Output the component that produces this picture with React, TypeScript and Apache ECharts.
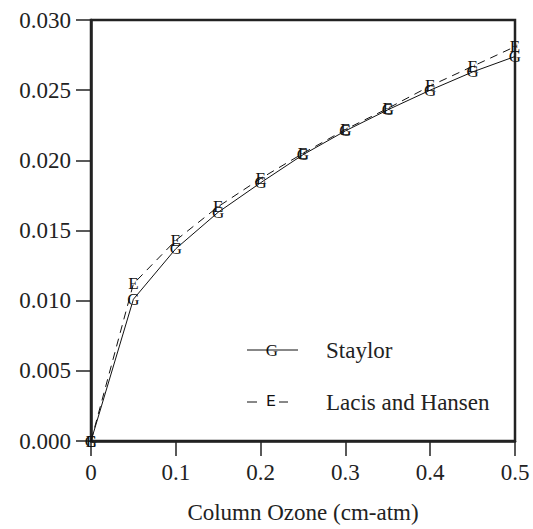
import React, { useEffect, useRef } from "react";
import * as echarts from "echarts";

const ozone = [0, 0.05, 0.1, 0.15, 0.2, 0.25, 0.3, 0.35, 0.4, 0.45, 0.5];
const staylor = [0, 0.0101, 0.0137, 0.0163, 0.0184, 0.0204, 0.0221, 0.0236, 0.025, 0.0263, 0.0274];
const lacisHansen = [0, 0.0112, 0.0143, 0.0167, 0.0187, 0.0205, 0.0222, 0.0237, 0.0253, 0.0267, 0.0281];
const seriesNames = ["Staylor", "Lacis and Hansen"];
const markers = ["G", "E"];
const xTitle = "Column Ozone (cm-atm)";

const serif = "Liberation Serif";
const mono = "Liberation Mono";

export default function App() {
  const ref = useRef<HTMLDivElement>(null);
  useEffect(() => {
    if (!ref.current) return;
    const chart = echarts.init(ref.current, null, { renderer: "svg" });
    const mk = (i: number, vals: number[], dashed: boolean) => ({
      name: seriesNames[i],
      type: "line",
      data: ozone.map((x, j) => [x, vals[j]]),
      symbol: "circle",
      symbolSize: 1,
      itemStyle: { color: "rgba(0,0,0,0)" },
      lineStyle: { color: "#111", width: 1, type: dashed ? [8, 6] : "solid" },
      label: {
        show: true,
        position: "inside",
        formatter: markers[i],
        color: "#111",
        fontFamily: serif,
        fontSize: 17,
      },
      labelLayout: { hideOverlap: false },
      emphasis: { disabled: true },
      silent: true,
      z: 3 - i,
    });
    chart.setOption({
      animation: false,
      grid: { left: 91, right: 18, top: 20, bottom: 86, show: true, borderColor: "#222", borderWidth: 2.5 },
      xAxis: {
        type: "value",
        min: 0,
        max: 0.5,
        interval: 0.1,
        name: xTitle,
        nameLocation: "middle",
        nameGap: 60,
        nameTextStyle: { fontFamily: serif, fontSize: 23, color: "#222" },
        axisLine: { show: true, lineStyle: { color: "#222", width: 2.5 } },
        axisTick: { show: true, length: 15, lineStyle: { color: "#222", width: 1.5 } },
        axisLabel: {
          fontFamily: serif,
          fontSize: 23,
          color: "#222",
          margin: 20,
          formatter: (v: number) => (v === 0 ? "0" : String(Math.round(v * 10) / 10)),
        },
        splitLine: { show: false },
      },
      yAxis: {
        type: "value",
        min: 0,
        max: 0.03,
        interval: 0.005,
        axisLine: { show: true, lineStyle: { color: "#222", width: 2.5 } },
        axisTick: { show: true, length: 15, lineStyle: { color: "#222", width: 1.5 } },
        axisLabel: {
          fontFamily: serif,
          fontSize: 23,
          color: "#222",
          margin: 20,
          formatter: (v: number) => v.toFixed(3),
        },
        splitLine: { show: false },
      },
      series: [mk(0, staylor, false), mk(1, lacisHansen, true)],
      graphic: [
        { type: "line", shape: { x1: 247, y1: 350, x2: 298, y2: 350 }, style: { stroke: "#111", lineWidth: 1 } },
        {
          type: "text",
          x: 272,
          y: 350,
          style: { text: markers[0], fontFamily: serif, fontSize: 17, fill: "#111", align: "center", verticalAlign: "middle" },
        },
        {
          type: "text",
          x: 326,
          y: 350,
          style: { text: seriesNames[0], fontFamily: serif, fontSize: 23, fill: "#222", align: "left", verticalAlign: "middle" },
        },
        { type: "line", shape: { x1: 247, y1: 402, x2: 257, y2: 402 }, style: { stroke: "#111", lineWidth: 1 } },
        { type: "line", shape: { x1: 279, y1: 402, x2: 288, y2: 402 }, style: { stroke: "#111", lineWidth: 1 } },
        {
          type: "text",
          x: 271,
          y: 402,
          style: { text: markers[1], fontFamily: mono, fontSize: 16, fill: "#111", align: "center", verticalAlign: "middle" },
        },
        {
          type: "text",
          x: 326,
          y: 402,
          style: { text: seriesNames[1], fontFamily: serif, fontSize: 23, fill: "#222", align: "left", verticalAlign: "middle" },
        },
      ],
    });
    return () => chart.dispose();
  }, []);
  return <div ref={ref} style={{ width: 533, height: 529, position: "absolute", left: 0, top: 0 }} />;
}
